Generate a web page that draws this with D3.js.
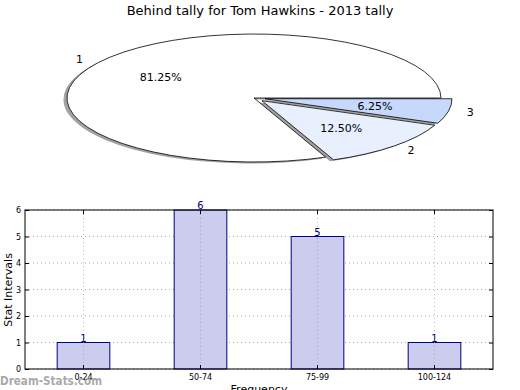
<!DOCTYPE html>
<html><head><meta charset="utf-8">
<script src="https://cdn.jsdelivr.net/npm/d3@7"></script>
<style>body{margin:0;background:#fff}svg{display:block;font-family:"DejaVu Sans",sans-serif}</style>
</head><body>
<svg id="c" width="520" height="390"></svg>
<script>
const title = "Behind tally for Tom Hawkins - 2013 tally";
const pieLabels = ["1","2","3"];
const pieValues = [81.25, 12.5, 6.25];
const pieExplode = [0, 0.06, 0.06];
const pieColors = ["#ffffff", "#e8f0fe", "#c6d9fd"];

const barCategories = ["0-24","50-74","75-99","100-124"];
const barValues = [1, 6, 5, 1];
const yTicks = [0,1,2,3,4,5,6];

const svg = d3.select("#c");
svg.append("text").attr("x",260).attr("y",15).attr("text-anchor","middle")
  .attr("font-size",13).text(title);

// ---- Pie ----
const cx = 254, cy = 98, rx = 187, ry = 64;
const pie = d3.pie().sort(null).startAngle(Math.PI/2).endAngle(Math.PI/2 - 2*Math.PI);
const arcs = pie(pieValues);
const arc = d3.arc().innerRadius(0).outerRadius(1);
const pg = svg.append("g");
function offs(d,i){
  const m = (d.startAngle + d.endAngle)/2;
  return [Math.sin(m)*pieExplode[i]*rx, -Math.cos(m)*pieExplode[i]*ry];
}
arcs.forEach((d,i)=>{
  const [ox,oy] = offs(d,i);
  pg.append("path").attr("d", arc(d))
    .attr("transform", `translate(${cx+ox-3.5},${cy+oy+1.5}) scale(${rx},${ry})`)
    .attr("fill","#555").attr("fill-opacity",0.55).attr("stroke","none");
});
arcs.forEach((d,i)=>{
  const [ox,oy] = offs(d,i);
  pg.append("path").attr("d", arc(d))
    .attr("transform", `translate(${cx+ox},${cy+oy}) scale(${rx},${ry})`)
    .attr("fill", pieColors[i]).attr("stroke","#000").attr("stroke-width",0.8)
    .attr("vector-effect","non-scaling-stroke");
});
arcs.forEach((d,i)=>{
  const [ox,oy] = offs(d,i);
  const m = (d.startAngle + d.endAngle)/2;
  const sx = Math.sin(m), sy = -Math.cos(m);
  const lx = cx+ox+sx*1.1*rx, ly = cy+oy+sy*1.1*ry;
  pg.append("text").attr("x",lx).attr("y",ly).attr("dy","0.35em")
    .attr("text-anchor", sx>0 ? "start" : "end").attr("font-size",11).text(pieLabels[i]);
  const px = cx+ox+sx*0.6*rx, py = cy+oy+sy*0.6*ry;
  pg.append("text").attr("x",px).attr("y",py).attr("dy","0.35em")
    .attr("text-anchor","middle").attr("font-size",11)
    .text(pieValues[i].toFixed(2)+"%");
});

// ---- Bars ----
const L=25, R=493, T=210, B=369;
const x = d3.scaleBand().domain(barCategories).range([L,R]).paddingInner(0).paddingOuter(0);
const y = d3.scaleLinear().domain([0,6]).range([B,T]);
const bg = svg.append("g");
bg.selectAll(".gy").data(yTicks).join("line")
  .attr("x1",L).attr("x2",R).attr("y1",d=>y(d)).attr("y2",d=>y(d))
  .attr("stroke","#aaa").attr("stroke-width",1).attr("stroke-dasharray","1,3");
const bw = x.bandwidth()*0.45;
bg.selectAll(".bar").data(barValues).join("rect")
  .attr("x",(d,i)=>x(barCategories[i])+x.bandwidth()/2-bw/2)
  .attr("width",bw)
  .attr("y",d=>y(d)).attr("height",d=>B-y(d))
  .attr("fill","#ccccee").attr("stroke","#000080").attr("stroke-width",1);
bg.selectAll(".gx").data(barCategories).join("line")
  .attr("x1",d=>x(d)+x.bandwidth()/2).attr("x2",d=>x(d)+x.bandwidth()/2).attr("y1",T).attr("y2",B)
  .attr("stroke","#999").attr("stroke-opacity",0.7).attr("stroke-width",1).attr("stroke-dasharray","1,3");
bg.selectAll(".vl").data(barValues).join("text")
  .attr("x",(d,i)=>x(barCategories[i])+x.bandwidth()/2).attr("y",d=>y(d)-1)
  .attr("text-anchor","middle").attr("font-size",10).attr("fill","#000080").text(d=>d);
bg.append("rect").attr("x",L).attr("y",T).attr("width",R-L).attr("height",B-T)
  .attr("fill","none").attr("stroke","#000").attr("stroke-width",1);
const ya = d3.axisLeft(y).tickValues(yTicks).tickFormat(d3.format("d")).tickSize(-4).tickPadding(4);
const gya = bg.append("g").attr("transform",`translate(${L},0)`).call(ya);
gya.select(".domain").remove();
gya.selectAll("text").attr("font-size",8).attr("font-family","DejaVu Sans");
const ya2 = d3.axisRight(y).tickValues(yTicks).tickSize(-4).tickFormat("");
const gya2 = bg.append("g").attr("transform",`translate(${R},0)`).call(ya2);
gya2.select(".domain").remove();
const xa = d3.axisBottom(x).tickSize(-4).tickPadding(5);
const gxa = bg.append("g").attr("transform",`translate(0,${B})`).call(xa);
gxa.select(".domain").remove();
gxa.selectAll("text").attr("font-size",8).attr("font-family","DejaVu Sans");
const xa2 = d3.axisTop(x).tickSize(-4).tickFormat("");
const gxa2 = bg.append("g").attr("transform",`translate(0,${T})`).call(xa2);
gxa2.select(".domain").remove();

svg.append("text").attr("transform","translate(12,290) rotate(-90)").attr("text-anchor","middle")
  .attr("font-size",11).text("Stat Intervals");
svg.append("text").attr("x",259).attr("y",393).attr("text-anchor","middle")
  .attr("font-size",11).text("Frequency");
svg.append("text").attr("x",0).attr("y",385).attr("font-size",13).attr("font-weight","bold")
  .attr("textLength",102).attr("lengthAdjust","spacingAndGlyphs")
  .attr("fill","#999").attr("fill-opacity",0.85).text("Dream-Stats.com");
</script>
</body></html>
